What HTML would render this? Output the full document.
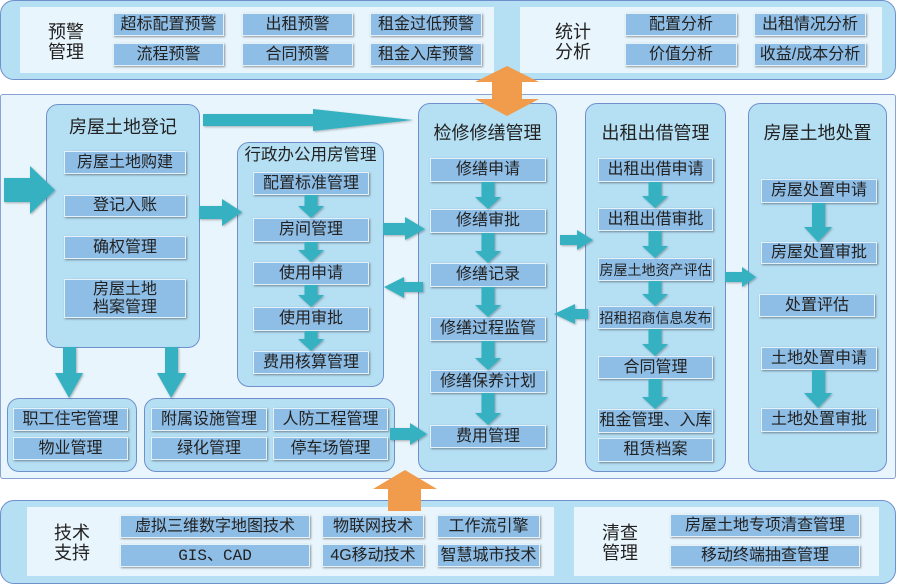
<!DOCTYPE html>
<html><head><meta charset="utf-8">
<style>
*{margin:0;padding:0;box-sizing:border-box}
body{width:897px;height:585px;position:relative;background:#fff;font-family:"Liberation Sans","Noto Sans CJK SC",sans-serif;color:#222;overflow:hidden}
.p{position:absolute;background:#b5dff3;border:1.5px solid #6f90cc;border-radius:14px}
.in{position:absolute;background:#e9f5fc}
.g{position:absolute;background:#b5dff3;border:1.5px solid #7090cc;border-radius:12px}
.b{position:absolute;background:#8ebde6;border:1px solid #e3f1fb;box-shadow:1px 1px 2px rgba(0,0,0,.4);text-align:center;font-size:16px;white-space:nowrap;display:flex;align-items:center;justify-content:center;line-height:18px}
.l{position:absolute;font-size:18px;line-height:20px;text-align:center;width:60px}
.t{position:absolute;font-size:18px;line-height:22px;text-align:center;white-space:nowrap}
</style></head><body>

<!-- top panel -->
<div class="p" style="left:0;top:0;width:896px;height:80px"></div>
<div class="in" style="left:20px;top:7px;width:474px;height:66px"></div>
<div class="in" style="left:520px;top:7px;width:362px;height:66px"></div>
<div class="l" style="left:36px;top:22px">预警<br>管理</div>
<div class="l" style="left:543px;top:22px">统计<br>分析</div>
<div class="b" style="left:113px;top:13px;width:111px;height:23px">超标配置预警</div>
<div class="b" style="left:242px;top:13px;width:111px;height:23px">出租预警</div>
<div class="b" style="left:370px;top:13px;width:112px;height:23px">租金过低预警</div>
<div class="b" style="left:113px;top:43px;width:111px;height:23px">流程预警</div>
<div class="b" style="left:242px;top:43px;width:111px;height:23px">合同预警</div>
<div class="b" style="left:370px;top:43px;width:112px;height:23px">租金入库预警</div>
<div class="b" style="left:625px;top:13px;width:112px;height:23px">配置分析</div>
<div class="b" style="left:754px;top:13px;width:112px;height:23px">出租情况分析</div>
<div class="b" style="left:625px;top:43px;width:112px;height:23px">价值分析</div>
<div class="b" style="left:754px;top:43px;width:112px;height:23px">收益/成本分析</div>

<!-- main panel -->
<div style="position:absolute;left:0;top:94px;width:896px;height:385px;background:#e9f5fc;border:1.5px solid #8aa2d2;border-radius:3px"></div>

<div class="g" style="left:46px;top:104px;width:154px;height:244px"></div>
<div class="t" style="left:46px;top:116px;width:154px">房屋土地登记</div>
<div class="b" style="left:64px;top:151px;width:122px;height:23px">房屋土地购建</div>
<div class="b" style="left:64px;top:195px;width:122px;height:22px">登记入账</div>
<div class="b" style="left:64px;top:236px;width:122px;height:23px">确权管理</div>
<div class="b" style="left:64px;top:279px;width:122px;height:39px">房屋土地<br>档案管理</div>

<div class="g" style="left:237px;top:142px;width:147px;height:245px"></div>
<div class="t" style="left:237px;top:144px;width:147px;font-size:16.5px">行政办公用房管理</div>
<div class="b" style="left:253px;top:172px;width:116px;height:23px">配置标准管理</div>
<div class="b" style="left:253px;top:218px;width:116px;height:24px">房间管理</div>
<div class="b" style="left:253px;top:262px;width:116px;height:23px">使用申请</div>
<div class="b" style="left:253px;top:307px;width:116px;height:24px">使用审批</div>
<div class="b" style="left:253px;top:351px;width:116px;height:23px">费用核算管理</div>

<div class="g" style="left:418px;top:103px;width:139px;height:369px"></div>
<div class="t" style="left:418px;top:122px;width:139px">检修修缮管理</div>
<div class="b" style="left:430px;top:158px;width:116px;height:24px">修缮申请</div>
<div class="b" style="left:430px;top:209px;width:116px;height:24px">修缮审批</div>
<div class="b" style="left:430px;top:263px;width:116px;height:24px">修缮记录</div>
<div class="b" style="left:430px;top:317px;width:116px;height:24px">修缮过程监管</div>
<div class="b" style="left:430px;top:370px;width:116px;height:23px">修缮保养计划</div>
<div class="b" style="left:430px;top:425px;width:116px;height:23px">费用管理</div>

<div class="g" style="left:585px;top:103px;width:141px;height:369px"></div>
<div class="t" style="left:585px;top:122px;width:141px">出租出借管理</div>
<div class="b" style="left:598px;top:158px;width:115px;height:24px">出租出借申请</div>
<div class="b" style="left:598px;top:208px;width:115px;height:23px">出租出借审批</div>
<div class="b" style="left:598px;top:258px;width:115px;height:23px;font-size:14px">房屋土地资产评估</div>
<div class="b" style="left:598px;top:306px;width:115px;height:23px;font-size:14px">招租招商信息发布</div>
<div class="b" style="left:598px;top:356px;width:115px;height:23px">合同管理</div>
<div class="b" style="left:598px;top:409px;width:115px;height:24px">租金管理、入库</div>
<div class="b" style="left:598px;top:438px;width:115px;height:24px">租赁档案</div>

<div class="g" style="left:748px;top:103px;width:139px;height:369px"></div>
<div class="t" style="left:748px;top:122px;width:139px">房屋土地处置</div>
<div class="b" style="left:761px;top:179px;width:116px;height:24px">房屋处置申请</div>
<div class="b" style="left:761px;top:242px;width:116px;height:22px">房屋处置审批</div>
<div class="b" style="left:759px;top:294px;width:116px;height:23px">处置评估</div>
<div class="b" style="left:761px;top:347px;width:116px;height:23px">土地处置申请</div>
<div class="b" style="left:761px;top:408px;width:116px;height:24px">土地处置审批</div>

<div class="g" style="left:7px;top:398px;width:130px;height:74px"></div>
<div class="b" style="left:13px;top:408px;width:115px;height:23px">职工住宅管理</div>
<div class="b" style="left:13px;top:437px;width:115px;height:23px">物业管理</div>

<div class="g" style="left:144px;top:398px;width:251px;height:74px"></div>
<div class="b" style="left:151px;top:408px;width:116px;height:23px">附属设施管理</div>
<div class="b" style="left:273px;top:408px;width:115px;height:23px">人防工程管理</div>
<div class="b" style="left:151px;top:437px;width:116px;height:23px">绿化管理</div>
<div class="b" style="left:273px;top:437px;width:115px;height:23px">停车场管理</div>

<!-- bottom panel -->
<div class="p" style="left:0;top:500px;width:896px;height:84px"></div>
<div class="in" style="left:27px;top:507px;width:527px;height:69px"></div>
<div class="in" style="left:574px;top:507px;width:305px;height:69px"></div>
<div class="l" style="left:42px;top:523px">技术<br>支持</div>
<div class="l" style="left:590px;top:523px">清查<br>管理</div>
<div class="b" style="left:120px;top:515px;width:190px;height:23px">虚拟三维数字地图技术</div>
<div class="b" style="left:120px;top:544px;width:190px;height:23px;font-family:'Liberation Mono','Noto Sans CJK SC',monospace">GIS、CAD</div>
<div class="b" style="left:322px;top:515px;width:102px;height:23px">物联网技术</div>
<div class="b" style="left:322px;top:544px;width:102px;height:23px">4G移动技术</div>
<div class="b" style="left:437px;top:515px;width:103px;height:23px">工作流引擎</div>
<div class="b" style="left:437px;top:544px;width:103px;height:23px">智慧城市技术</div>
<div class="b" style="left:670px;top:514px;width:190px;height:23px">房屋土地专项清查管理</div>
<div class="b" style="left:670px;top:545px;width:190px;height:22px">移动终端抽查管理</div>

<!-- arrows -->
<svg style="position:absolute;left:0;top:0" width="897" height="585" viewBox="0 0 897 585">
<defs><filter id="s" x="-20%" y="-20%" width="140%" height="140%"><feDropShadow dx="1" dy="1" stdDeviation="1" flood-color="#000" flood-opacity="0.3"/></filter></defs>
<g fill="#35b1c1" filter="url(#s)">
<polygon points="4,178 30,178 30,166 55,190 30,214 30,202 4,202"/>
<polygon points="203,114 313,114 313,109 413,120 313,131 313,126 203,126"/>
<polygon points="199,206 222,206 222,199 242,212 222,226 222,219 199,219"/>
<polygon points="383,223 405,223 405,217 425,229 405,240 405,235 383,235"/>
<polygon points="423,282 404,282 404,277 384,287 404,298 404,292 423,292"/>
<polygon points="560,235 577,235 577,230 593,240 577,250 577,245 560,245"/>
<polygon points="588,309 575,309 575,304 554,314 575,324 575,319 588,319"/>
<polygon points="725,272 742,272 742,267 756,277 742,287 742,282 725,282"/>
<polygon points="390,428 410,428 410,423 427,434 410,445 410,440 390,440"/>
<polygon points="63,347 76,347 76,373 83,373 69,398 55,373 63,373"/>
<polygon points="165,347 178,347 178,373 186,373 171,398 157,373 165,373"/>
<!-- 行政 -->
<polygon points="304.5,195 317.5,195 317.5,206 324,206 311,218 298,206 304.5,206"/>
<polygon points="304.5,242 317.5,242 317.5,250 324,250 311,262 298,250 304.5,250"/>
<polygon points="304.5,285 317.5,285 317.5,295 324,295 311,307 298,295 304.5,295"/>
<polygon points="304.5,331 317.5,331 317.5,339 324,339 311,351 298,339 304.5,339"/>
<!-- 检修 -->
<polygon points="481.5,182 494.5,182 494.5,197 501,197 488,209 475,197 481.5,197"/>
<polygon points="481.5,233 494.5,233 494.5,251 501,251 488,263 475,251 481.5,251"/>
<polygon points="481.5,287 494.5,287 494.5,305 501,305 488,317 475,305 481.5,305"/>
<polygon points="481.5,341 494.5,341 494.5,358 501,358 488,370 475,358 481.5,358"/>
<polygon points="481.5,393 494.5,393 494.5,413 501,413 488,425 475,413 481.5,413"/>
<!-- 出租 -->
<polygon points="648.5,182 661.5,182 661.5,196 668,196 655,208 642,196 648.5,196"/>
<polygon points="648.5,231 661.5,231 661.5,246 668,246 655,258 642,246 648.5,246"/>
<polygon points="648.5,281 661.5,281 661.5,294 668,294 655,306 642,294 648.5,294"/>
<polygon points="648.5,329 661.5,329 661.5,344 668,344 655,356 642,344 648.5,344"/>
<polygon points="648.5,379 661.5,379 661.5,397 668,397 655,409 642,397 648.5,397"/>
<!-- 处置 -->
<polygon points="812,203 825,203 825,227 832,227 818,242 804,227 812,227"/>
<polygon points="812,370 825,370 825,393 832,393 818,408 804,393 812,393"/>
</g>
<g fill="#f09c4c">
<polygon points="507,66 539,82 522,82 522,99 539,99 507,116 475,99 492,99 492,82 475,82"/>
<polygon points="405,470 437,489 421,489 421,511 388,511 388,489 373,489"/>
</g>
</svg>
</body></html>
